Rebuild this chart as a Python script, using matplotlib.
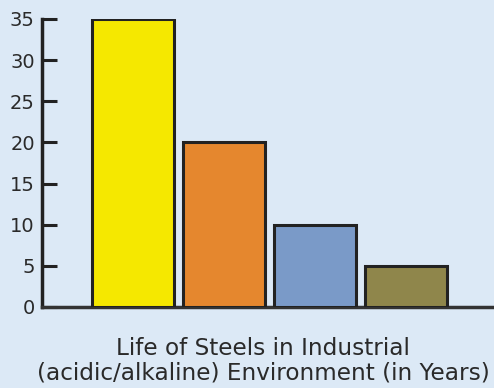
import matplotlib
matplotlib.use('Agg')
import matplotlib.pyplot as plt
import numpy as np

# bar values
values = [35, 20, 10, 5]
colors = ['#f5e800', '#e5872e', '#7a9ac8', '#8f864b']
yticks = [0, 5, 10, 15, 20, 25, 30, 35]
xlabel = 'Life of Steels in Industrial\n(acidic/alkaline) Environment (in Years)'

bg = '#dce9f6'
plt.rcParams['font.family'] = ['DejaVu Sans']

fig = plt.figure(figsize=(4.94, 3.88), dpi=100, facecolor=bg)
ax = fig.add_axes([42/494, 1-307/388, 1-42/494, (307-19)/388])
ax.set_facecolor(bg)

x = np.arange(len(values))
ax.bar(x, values, width=0.9, color=colors, edgecolor='#222222', linewidth=2.2, zorder=3)

ax.set_xlim(-1, 3.97)
ax.set_ylim(0, 35)
ax.set_yticks(yticks)
ax.set_xticks([])

for s in ['top', 'right']:
    ax.spines[s].set_visible(False)
ax.spines['left'].set_linewidth(2.5)
ax.spines['bottom'].set_linewidth(2.5)
ax.spines['left'].set_color('#222222')
ax.spines['bottom'].set_color('#333333')
ax.tick_params(axis='y', direction='in', length=11, width=2.2, color='#222222',
               labelsize=14, labelcolor='#2a2a2a', pad=-3)
for lbl in ax.get_yticklabels():
    lbl.set_horizontalalignment('right')
    lbl.set_x(-0.025)

# x label placed on the figure so it can sit a bit left of the axes centre
fig.text(263/494, 3/388, xlabel, fontsize=16.7, color='#2a2a2a', ha='center',
         va='bottom', linespacing=1.1, multialignment='center')

fig.savefig('out.png', dpi=100, facecolor=bg)
